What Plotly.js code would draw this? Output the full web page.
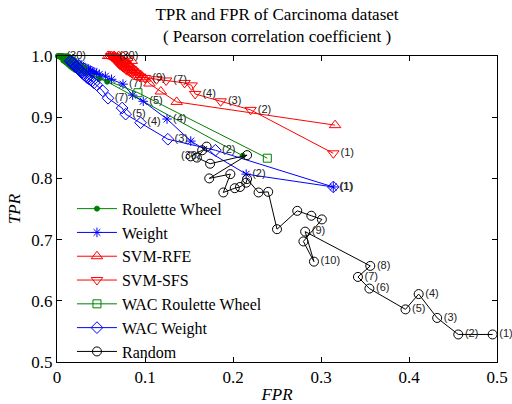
<!DOCTYPE html>
<html>
<head>
<meta charset="utf-8">
<script src="https://cdn.plot.ly/plotly-3.0.1.min.js"></script>
<style>html,body{margin:0;padding:0;background:#fff;}#chart{width:512px;height:404px;}</style>
</head>
<body>
<div id="chart"></div>
<script>
// Roulette Wheel
var rwFPR = [0.211,0.057,0.048,0.040,0.034,0.028,0.024,0.020,0.017,0.015,0.013,0.012,0.011,0.010,0.009,0.008,0.008,0.007,0.006,0.006,0.005,0.005,0.004,0.004,0.003,0.003,0.002,0.002,0.001,0.006];
var rwTPR = [0.837,0.958,0.963,0.968,0.973,0.977,0.981,0.984,0.987,0.989,0.991,0.992,0.993,0.994,0.995,0.996,0.996,0.997,0.997,0.998,0.998,0.998,0.999,0.999,0.999,1.0,1.0,1.0,1.0,1.0];
var rwLbl = ['','','','','','','','','','','','','','','','','','','','','','','','','','','','','','(30)'];
// Weight
var wFPR = [0.314,0.215,0.152,0.125,0.098,0.086,0.075,0.062,0.055,0.048,0.045,0.042,0.040,0.038,0.036,0.034,0.032,0.030,0.028,0.027,0.025,0.024,0.022,0.021,0.019,0.018,0.016,0.015,0.013,0.012];
var wTPR = [0.786,0.807,0.861,0.897,0.926,0.936,0.954,0.962,0.967,0.970,0.972,0.974,0.975,0.976,0.978,0.979,0.981,0.982,0.983,0.985,0.986,0.987,0.988,0.989,0.990,0.991,0.992,0.993,0.994,0.995];
var wLbl = ['(1)','(2)','','(4)','(5)','','(7)','','','','','','','','','','','','','','','','','','','','','','',''];
// SVM-RFE
var reFPR = [0.316,0.136,0.118,0.105,0.100,0.097,0.095,0.092,0.090,0.088,0.086,0.084,0.082,0.080,0.085,0.078,0.076,0.074,0.080,0.072,0.070,0.068,0.075,0.066,0.064,0.070,0.062,0.060,0.065,0.058];
var reTPR = [0.887,0.925,0.942,0.955,0.963,0.966,0.969,0.972,0.975,0.977,0.980,0.982,0.985,0.987,0.992,0.989,0.991,0.993,0.997,0.995,0.996,0.997,0.999,0.998,0.999,1.0,1.0,1.0,1.0,1.0];
// SVM-SFS
var sfFPR = [0.314,0.220,0.186,0.157,0.153,0.145,0.124,0.113,0.100,0.094,0.090,0.087,0.085,0.083,0.081,0.079,0.078,0.076,0.075,0.074,0.072,0.071,0.070,0.069,0.068,0.067,0.066,0.065,0.063,0.062];
var sfTPR = [0.841,0.912,0.926,0.938,0.952,0.956,0.960,0.962,0.964,0.966,0.968,0.970,0.972,0.974,0.976,0.977,0.979,0.981,0.982,0.984,0.985,0.987,0.988,0.990,0.991,0.993,0.994,0.996,0.998,1.0];
var sfLbl = ['(1)','(2)','(3)','(4)','','','(7)','','(9)','','','','','','','','','','','','','','','','','','','','','(30)'];
// WAC Roulette Wheel
var wrFPR = [0.239,0.092,0.030,0.028,0.026,0.024,0.023,0.022,0.021,0.020,0.019,0.018,0.018,0.017,0.017,0.016,0.016,0.015,0.015,0.014,0.014,0.013,0.013,0.012,0.012,0.011,0.011,0.010,0.010,0.009];
var wrTPR = [0.833,0.940,0.975,0.977,0.979,0.980,0.981,0.982,0.983,0.984,0.985,0.986,0.987,0.988,0.988,0.989,0.990,0.990,0.991,0.992,0.992,0.993,0.993,0.994,0.994,0.995,0.995,0.996,0.996,0.997];
// WAC Weight
var wwFPR = [0.314,0.180,0.126,0.095,0.078,0.074,0.058,0.052,0.045,0.042,0.040,0.038,0.036,0.034,0.033,0.031,0.030,0.028,0.027,0.026,0.025,0.024,0.022,0.021,0.020,0.019,0.018,0.017,0.016,0.015];
var wwTPR = [0.786,0.846,0.864,0.891,0.905,0.915,0.931,0.943,0.953,0.956,0.959,0.961,0.963,0.965,0.967,0.969,0.971,0.973,0.975,0.977,0.978,0.980,0.982,0.983,0.985,0.986,0.988,0.989,0.991,0.992];
var wwLbl = ['(1)','(2)','(3)','(4)','(5)','','(7)','','','','','','','','','','','','','','','','','','','','','','',''];
// Random
var rdFPR = [0.495,0.456,0.432,0.411,0.396,0.355,0.342,0.356,0.282,0.292,0.280,0.301,0.289,0.273,0.250,0.240,0.229,0.216,0.215,0.208,0.202,0.189,0.197,0.173,0.216,0.174,0.159,0.170,0.165,0.152];
var rdTPR = [0.545,0.545,0.572,0.611,0.586,0.620,0.639,0.657,0.713,0.664,0.697,0.733,0.739,0.747,0.717,0.778,0.777,0.799,0.793,0.786,0.784,0.777,0.807,0.800,0.838,0.824,0.834,0.852,0.846,0.836];
var rdLbl = ['(1)','(2)','(3)','(4)','(5)','(6)','(7)','(8)','(9)','(10)','','','','','','','','','','','','','','','','','','','','(30)'];
var rdPos = ['middle right','middle right','middle right','middle right','middle right','middle right','middle right','middle right','middle right','middle right','middle right','middle right','middle right','middle right','middle right','middle right','middle right','middle right','middle right','middle right','middle right','middle right','middle right','middle right','middle right','middle right','middle right','middle right','middle right','middle center'];

var lblFont = {family:'Liberation Sans, Arial, sans-serif', size:11, color:'#222'};
function tr(name, x, y, txt, color, symbol, size, pos){
  return {
    type:'scatter', name:name, x:x, y:y,
    mode: txt ? 'lines+markers+text' : 'lines+markers',
    text: txt || undefined, textposition: pos || 'middle right', textfont:lblFont,
    line:{color:color, width:1},
    marker:{symbol:symbol, size:size, color:color, line:{color:color, width:1}},
    cliponaxis:false
  };
}
var green = '#008000', blue = '#0000ff', red = '#ff0000';
var data = [
  tr('Roulette Wheel', rwFPR, rwTPR, rwLbl, green, 'circle', 5),
  tr('Weight', wFPR, wTPR, wLbl, blue, 'asterisk-open', 8),
  tr('SVM-RFE', reFPR, reTPR, null, red, 'triangle-up-open', 10),
  tr('SVM-SFS', sfFPR, sfTPR, sfLbl, red, 'triangle-down-open', 10),
  tr('WAC Roulette Wheel', wrFPR, wrTPR, null, green, 'square-open', 8),
  tr('WAC Weight', wwFPR, wwTPR, wwLbl, blue, 'diamond-open', 9),
  tr('Random', rdFPR, rdTPR, rdLbl, '#000000', 'circle-open', 9, rdPos)
];
var serif = 'Liberation Serif';
var axisCommon = {
  showgrid:false, zeroline:false, showline:true, linecolor:'#000', linewidth:1,
  mirror:'ticks', ticks:'inside', ticklen:5, tickcolor:'#000',
  tickfont:{family:serif, size:17, color:'#000'}
};
var layout = {
  width:512, height:404,
  margin:{l:57, r:15, t:56, b:42},
  paper_bgcolor:'#fff', plot_bgcolor:'#fff',
  title:{text:'TPR and FPR of Carcinoma dataset<br>( Pearson correlation coefficient )',
         font:{family:serif, size:17, color:'#000'}, x:0.541, xanchor:'center', y:0.95, yanchor:'top', yref:'container'},
  xaxis: Object.assign({}, axisCommon, {range:[0,0.5], dtick:0.1, tick0:0,
         title:{text:'<i>FPR</i>', font:{family:serif, size:17, color:'#000'}, standoff:2}}),
  yaxis: Object.assign({}, axisCommon, {range:[0.5,1.0], dtick:0.1, tick0:0.5, tickformat:'.1f',
         title:{text:'<i>TPR</i>', font:{family:serif, size:17, color:'#000'}, standoff:6}}),
  showlegend:true,
  legend:{x:0.034, y:-0.022, xanchor:'left', yanchor:'bottom', bgcolor:'rgba(0,0,0,0)',
          font:{family:serif, size:16, color:'#000'}, itemwidth:40, tracegroupgap:0}
};
Plotly.newPlot('chart', data, layout, {displayModeBar:false, staticPlot:true});
</script>
</body>
</html>
